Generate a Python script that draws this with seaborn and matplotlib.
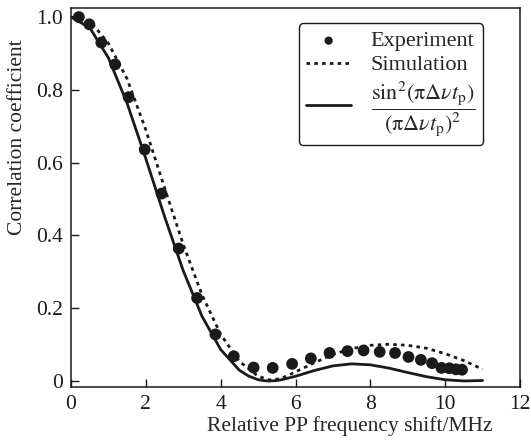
import numpy as np
import pandas as pd
import matplotlib
matplotlib.use("Agg")
import matplotlib.pyplot as plt
import seaborn as sns

# --- data ---
exp_shift = [0.21, 0.49, 0.81, 1.18, 1.54, 1.97, 2.42, 2.88, 3.37, 3.86, 4.35,
             4.88, 5.39, 5.91, 6.41, 6.91, 7.39, 7.82, 8.25, 8.66, 9.02, 9.35,
             9.65, 9.90, 10.11, 10.29, 10.45]
exp_corr = [1.0, 0.98, 0.93, 0.87, 0.78, 0.636, 0.515, 0.364, 0.228, 0.128, 0.068,
            0.037, 0.036, 0.047, 0.062, 0.077, 0.082, 0.084, 0.080, 0.077, 0.066,
            0.058, 0.049, 0.036, 0.035, 0.032, 0.031]

sim_shift = [0.0, 0.5, 1.0, 1.5, 2.0, 2.5, 3.0, 3.5, 4.0, 4.5, 5.0, 5.3, 5.6,
             6.0, 6.5, 7.0, 7.5, 8.0, 8.5, 9.0, 9.5, 10.0, 10.5, 11.0]
sim_corr = [1.0, 0.99, 0.928, 0.83, 0.69, 0.531, 0.375, 0.237, 0.128, 0.054,
            0.013, 0.003, 0.006, 0.025, 0.05, 0.073, 0.089, 0.098, 0.101, 0.098,
            0.09, 0.075, 0.056, 0.032]

sinc_shift = [0.0, 0.5, 1.0, 1.5, 2.0, 2.5, 3.0, 3.5, 4.0, 4.5, 4.75, 5.0, 5.15,
              5.3, 5.45, 5.6, 6.0, 6.5, 7.0, 7.5, 8.0, 8.5, 9.0, 9.5, 10.0, 10.5, 11.0]
sinc_corr = [1.0, 0.971, 0.888, 0.763, 0.611, 0.452, 0.303, 0.178, 0.0865, 0.0294,
             0.0133, 0.0036, 0.0009, 0.0, 0.0007, 0.0028, 0.0129, 0.0287, 0.0415,
             0.0471, 0.0444, 0.0353, 0.0232, 0.0118, 0.0034, 0.0001, 0.0013]

sns.set_style("ticks")
plt.rcParams['font.family'] = ['Liberation Serif', 'DejaVu Serif']
plt.rcParams['mathtext.fontset'] = 'stix'
plt.rcParams['font.size'] = 15.5

fig = plt.figure(figsize=(5.31, 4.44), dpi=100)
ax = fig.add_axes([0.1337, 0.1284, 0.8456, 0.8536])

sns.scatterplot(x=exp_shift, y=exp_corr, ax=ax, color='#1a1a1a', s=72,
                edgecolor='none', zorder=3, label='Experiment')
sns.lineplot(x=sim_shift, y=sim_corr, ax=ax, color='#1a1a1a', lw=2.0,
             linestyle=(0, (1.3, 1.5)), label='Simulation')
sns.lineplot(x=sinc_shift, y=sinc_corr, ax=ax, color='#1a1a1a', lw=2.0,
             label=r'$\dfrac{\mathrm{sin}^2(\mathrm{\pi\Delta}\nu t_\mathrm{p})}'
                   r'{(\mathrm{\pi\Delta}\nu t_\mathrm{p})^2}$')

ax.set_xlim(0, 12)
ax.set_ylim(-0.0165, 1.025)
ax.set_xticks([0, 2, 4, 6, 8, 10, 12])
ax.set_yticks([0, 0.2, 0.4, 0.6, 0.8, 1.0])
ax.set_yticklabels(['0', '0.2', '0.4', '0.6', '0.8', '1.0'])
ax.tick_params(direction='in', length=6, width=1, colors='#1a1a1a',
               labelsize=15.5, pad=6)
for sp in ax.spines.values():
    sp.set_visible(True)
    sp.set_linewidth(1.1)
    sp.set_color('#1a1a1a')

ax.set_xlabel('Relative PP frequency shift/MHz', fontsize=15.5)
ax.set_ylabel('Correlation coefficient', fontsize=15.5)
ax.xaxis.set_label_coords(0.62, -0.078)
ax.yaxis.set_label_coords(-0.098, 0.66)

leg = ax.legend(loc='upper right', bbox_to_anchor=(0.918, 0.960),
                borderaxespad=0, frameon=True, fancybox=True, fontsize=16,
                handlelength=2.0, handletextpad=0.9, labelspacing=0.15,
                markerscale=0.7, borderpad=0.35)
leg.get_frame().set_edgecolor('#1a1a1a')
leg.get_frame().set_linewidth(1.0)
leg.get_frame().set_alpha(1)

fig.savefig('out.png', dpi=100)
